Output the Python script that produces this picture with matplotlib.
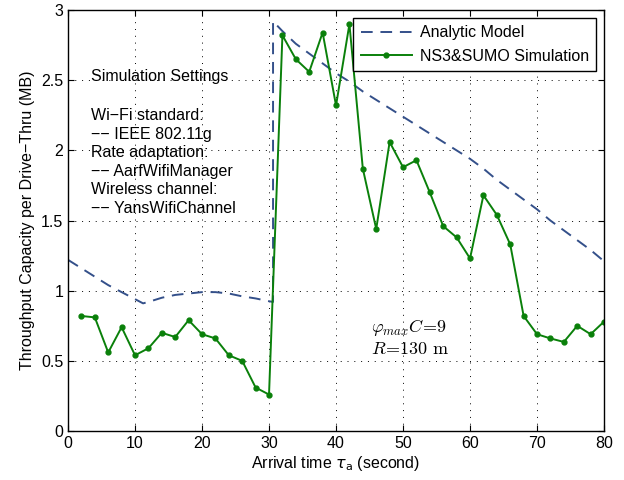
import matplotlib
matplotlib.use('Agg')
import matplotlib.pyplot as plt

plt.rcParams['font.family'] = ['Liberation Sans', 'DejaVu Sans']
plt.rcParams['font.size'] = 11.5

# analytic model curve
model_t = [0, 2, 4, 6, 8, 10, 11.2, 12, 14, 16, 18, 20, 22, 24, 26, 28, 30, 30.6,
           30.6, 32, 34, 36, 38, 40, 42, 44, 46, 48, 50, 52, 54, 56, 58, 60,
           62, 64, 66, 68, 70, 72, 74, 76, 78, 80]
model_c = [1.22, 1.16, 1.10, 1.04, 0.99, 0.94, 0.91, 0.92, 0.95, 0.97, 0.98, 0.99, 0.99,
           0.98, 0.96, 0.945, 0.925, 0.92,
           2.92, 2.85, 2.76, 2.69, 2.62, 2.55, 2.49, 2.42, 2.36, 2.30, 2.24, 2.18,
           2.12, 2.06, 2.00, 1.94, 1.87, 1.79, 1.72, 1.65, 1.58, 1.50, 1.43, 1.36,
           1.29, 1.21]

# NS3 & SUMO simulation
sim_t = list(range(2, 82, 2))
sim_c = [0.82, 0.81, 0.56, 0.74, 0.54, 0.59, 0.70, 0.67, 0.79, 0.69,
         0.66, 0.54, 0.50, 0.31, 0.26, 2.82, 2.65, 2.56, 2.84, 2.32,
         2.90, 1.87, 1.44, 2.06, 1.88, 1.93, 1.70, 1.46, 1.38, 1.23,
         1.68, 1.54, 1.33, 0.82, 0.69, 0.66, 0.635, 0.75, 0.69, 0.78]

settings = ['Simulation Settings', '', 'Wi\u2212Fi standard:', '\u2212\u2212 IEEE 802.11g',
            'Rate adaptation:', '\u2212\u2212 AarfWifiManager', 'Wireless channel:',
            '\u2212\u2212 YansWifiChannel']

fig = plt.figure(figsize=(6.24, 4.8), dpi=100)
ax = fig.add_axes([0.109, 0.102, 0.859, 0.877])

ax.plot(model_t, model_c, linestyle=(0, (6, 4)), color='#34508a', linewidth=1.4,
        label='Analytic Model')
ax.plot(sim_t, sim_c, '-', color='#0a800a', marker='o', markersize=3.5,
        linewidth=1.4, label='NS3&SUMO Simulation')

ax.set_xlim(0, 80)
ax.set_ylim(0, 3)
ax.set_xticks(range(0, 81, 10))
ax.set_yticks([0, 0.5, 1, 1.5, 2, 2.5, 3])
ax.set_yticklabels(['0', '0.5', '1', '1.5', '2', '2.5', '3'])
ax.grid(True, linestyle=(0, (1, 6)), color='black', linewidth=0.7)
ax.tick_params(direction='in', top=True, right=True, length=4)
for s in ax.spines.values():
    s.set_linewidth(1.0)

ax.set_xlabel(r'Arrival time $\tau_{\rm a}$ (second)', labelpad=2)
ax.set_ylabel('Throughput Capacity per Drive\u2212Thru (MB)', labelpad=4)

leg = ax.legend(loc='upper right', fancybox=False, framealpha=1, edgecolor='black',
                borderaxespad=0.5, handlelength=3.2, fontsize=11.5,
                borderpad=0.45, labelspacing=0.55, handletextpad=0.5)
leg.get_frame().set_linewidth(1.0)

# settings text block (first line, blank, then 6 lines)
for i, line in enumerate(settings):
    if line == '':
        continue
    yy = 77 if i == 0 else 115.5 + (i - 2) * 18.6
    fig.text(91 / 624, 1 - yy / 480, line, fontsize=11.5, va='center', ha='left')

fig.text(371 / 624, 1 - 327 / 480, r'$\varphi_{max}C\!=\!9$', fontsize=13,
         va='center', ha='left', math_fontfamily='cm')
fig.text(371 / 624, 1 - 350 / 480, r'$R\!=\!130\ \mathrm{m}$', fontsize=13,
         va='center', ha='left', math_fontfamily='cm')

fig.savefig('out.png', dpi=100)
